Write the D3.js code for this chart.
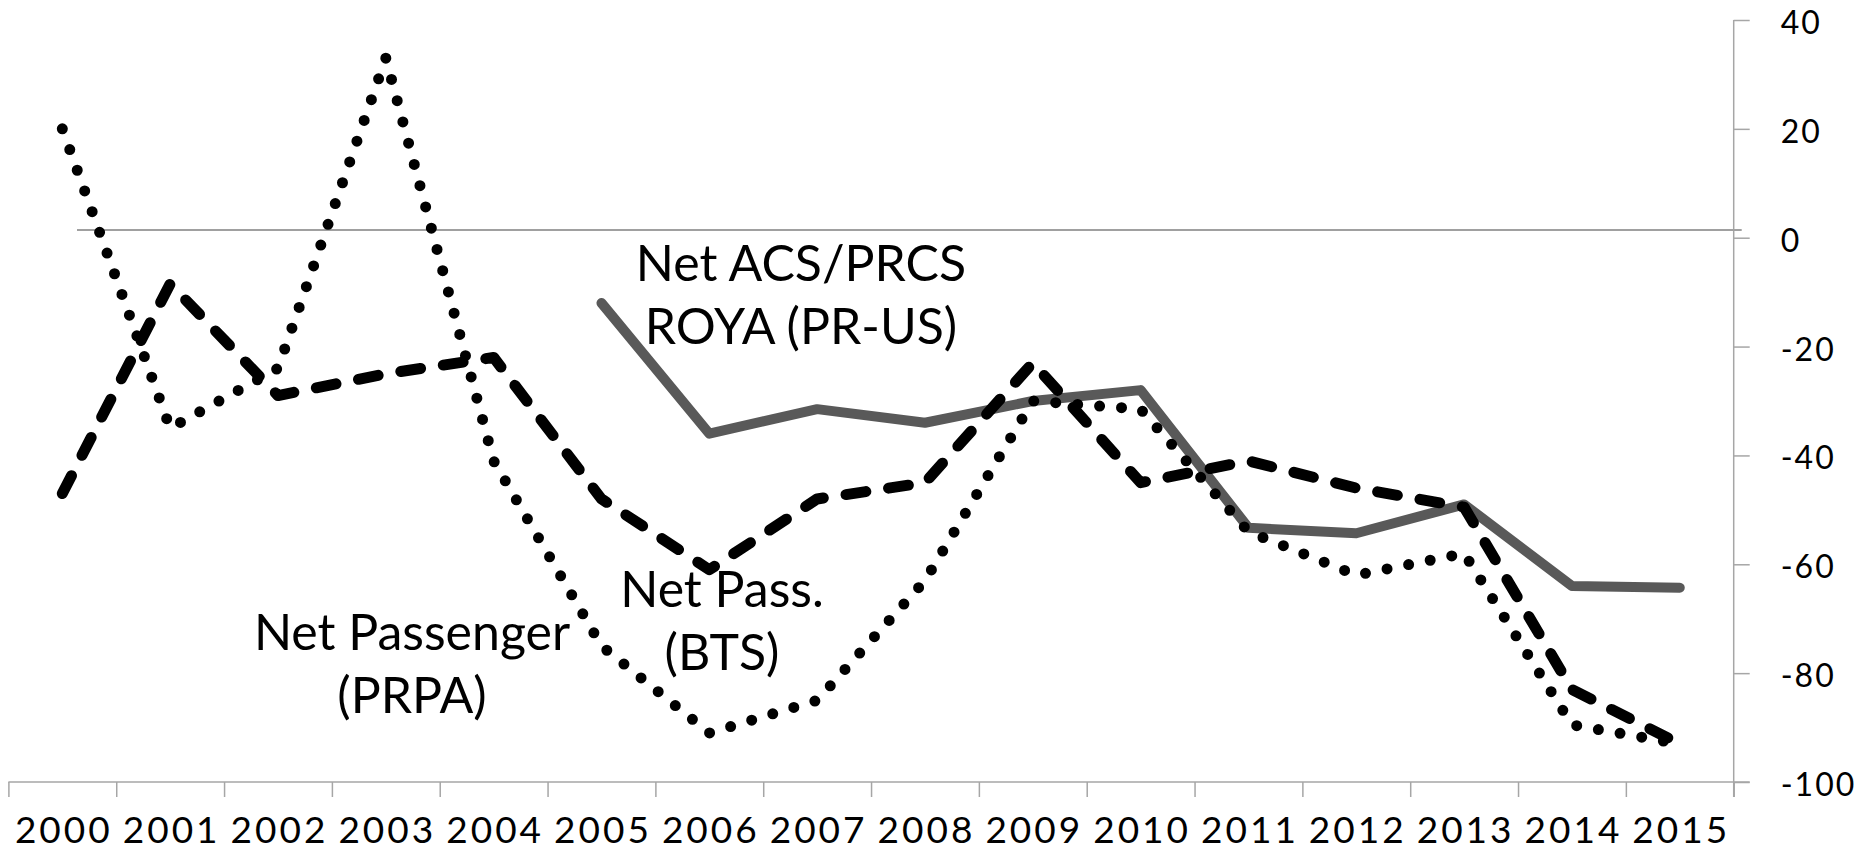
<!DOCTYPE html>
<html>
<head>
<meta charset="utf-8">
<script src="https://cdn.jsdelivr.net/npm/d3@7"></script>
<style>
  html, body { margin: 0; padding: 0; background: #fff; }
  #chart { width: 1870px; height: 856px; }
  text { font-family: Lato, 'Open Sans', sans-serif; fill: #000; }
  .axis path, .axis line { stroke: #a6a6a6; stroke-width: 1.5; }
</style>
</head>
<body>
<div id="chart"></div>
<script>
// data
const years = ['2000', '2001', '2002', '2003', '2004', '2005', '2006', '2007',
  '2008', '2009', '2010', '2011', '2012', '2013', '2014', '2015'];
const prpaValues = [20, -35, -24, 33, -41, -75, -91, -85, -63, -30, -31.5, -54, -62, -58, -89.5, -93];
const btsValues = [-47, -8.5, -29, -25, -22, -48, -61, -48, -45, -23, -45, -41, -46, -49.5, -83, -93];
const royaValues = [null, null, null, null, null, -12, -36, -31.5, -34, -30, -28, -53.3, -54.3, -49, -64, -64.3];
const yTicks = [40, 20, 0, -20, -40, -60, -80, -100];
const yDomain = [-100, 40];
const refLineValue = 1.4;
const labelRoya = ['Net ACS/PRCS', 'ROYA (PR-US)'];
const labelBts = ['Net Pass.', '(BTS)'];
const labelPrpa = ['Net Passenger', '(PRPA)'];

d3.select('#chart').datum({ years, prpaValues, btsValues, royaValues }).call(sel => {
  const data = sel.datum();

  // dimension stuff
  const width = 1870;
  const height = 856;
  const marginTop = 20;
  const marginBottom = 74;
  const marginLeft = 8.4;
  const marginRight = 136.3;

  let scaleX = null;
  let scaleEdge = null;
  let scaleY = null;

  const $svg = sel.append('svg').attr('width', width).attr('height', height);
  const $axis = $svg.append('g').attr('class', 'g-axis');
  const $vis = $svg.append('g').attr('class', 'g-vis');

  const Chart = {
    init() {
      Chart.resize();
      Chart.render();
    },
    resize() {
      scaleX = d3.scaleBand()
        .domain(data.years)
        .range([marginLeft, width - marginRight]);
      scaleEdge = d3.scaleLinear()
        .domain([0, data.years.length])
        .range([marginLeft, width - marginRight]);
      scaleY = d3.scaleLinear()
        .domain(yDomain)
        .range([height - marginBottom, marginTop]);
      return Chart;
    },
    render() {
      const right = width - marginRight;
      const bottom = height - marginBottom;
      const cx = d => scaleX(d) + scaleX.bandwidth() / 2;

      // y axis on the right, plain hyphen for negatives
      const yAxis = $axis.append('g')
        .attr('class', 'axis axis-y')
        .attr('transform', `translate(${right},0)`)
        .call(d3.axisRight(scaleY).tickValues(yTicks).tickFormat(d => String(d))
          .tickSize(16).tickSizeOuter(0).tickPadding(31));
      yAxis.select('.domain').remove();
      yAxis.append('line')
        .attr('y1', scaleY(yDomain[1])).attr('y2', bottom + 15);
      yAxis.selectAll('text')
        .style('font-size', '32px')
        .attr('dy', '0.42em')
        .attr('letter-spacing', '2px');

      // x axis: ticks on category edges, labels in the middle
      const xAxis = $axis.append('g')
        .attr('class', 'axis axis-x')
        .attr('transform', `translate(0,${bottom})`)
        .call(d3.axisBottom(scaleEdge).tickValues(d3.range(data.years.length + 1))
          .tickFormat('').tickSize(15).tickSizeOuter(0));
      xAxis.select('.domain').remove();
      xAxis.append('line')
        .attr('x1', scaleEdge(0)).attr('x2', right + 16);

      $axis.append('g')
        .attr('class', 'x-labels')
        .selectAll('text')
        .data(data.years)
        .join('text')
        .attr('x', d => cx(d) + 1.5)
        .attr('y', bottom + 61)
        .attr('text-anchor', 'middle')
        .attr('letter-spacing', '3px')
        .style('font-size', '37px')
        .text(d => d);

      // horizontal reference line near zero
      $vis.append('line')
        .attr('x1', 77).attr('x2', right + 8)
        .attr('y1', scaleY(refLineValue)).attr('y2', scaleY(refLineValue))
        .attr('stroke', '#a0a0a0')
        .attr('stroke-width', 2);

      const line = d3.line()
        .defined(d => d.v !== null)
        .x(d => cx(d.year))
        .y(d => scaleY(d.v));
      const rows = vals => data.years.map((year, i) => ({ year, v: vals[i] }));

      const series = [
        { key: 'roya', vals: data.royaValues, stroke: '#595959', w: 10, dash: null },
        { key: 'prpa', vals: data.prpaValues, stroke: '#000', w: 11, dash: '0 22' },
        { key: 'bts', vals: data.btsValues, stroke: '#000', w: 11, dash: '20 23' }
      ];

      $vis.selectAll('.series')
        .data(series)
        .join('path')
        .attr('class', d => `series series-${d.key}`)
        .attr('d', d => line(rows(d.vals)))
        .attr('fill', 'none')
        .attr('stroke', d => d.stroke)
        .attr('stroke-width', d => d.w)
        .attr('stroke-linecap', 'round')
        .attr('stroke-linejoin', 'round')
        .attr('stroke-dasharray', d => d.dash);

      // annotations
      const notes = [
        { lines: labelRoya, x: 801, y: 281 },
        { lines: labelBts, x: 722, y: 607 },
        { lines: labelPrpa, x: 412, y: 650 }
      ];
      const $notes = $vis.selectAll('.note')
        .data(notes)
        .join('text')
        .attr('class', 'note')
        .attr('text-anchor', 'middle')
        .style('font-size', '50px');
      $notes.selectAll('tspan')
        .data(d => d.lines.map((t, i) => ({ t, i, x: d.x, y: d.y })))
        .join('tspan')
        .attr('x', d => d.x)
        .attr('y', d => d.y + d.i * 63)
        .text(d => d.t);

      return Chart;
    }
  };
  Chart.init();
});
</script>
</body>
</html>
